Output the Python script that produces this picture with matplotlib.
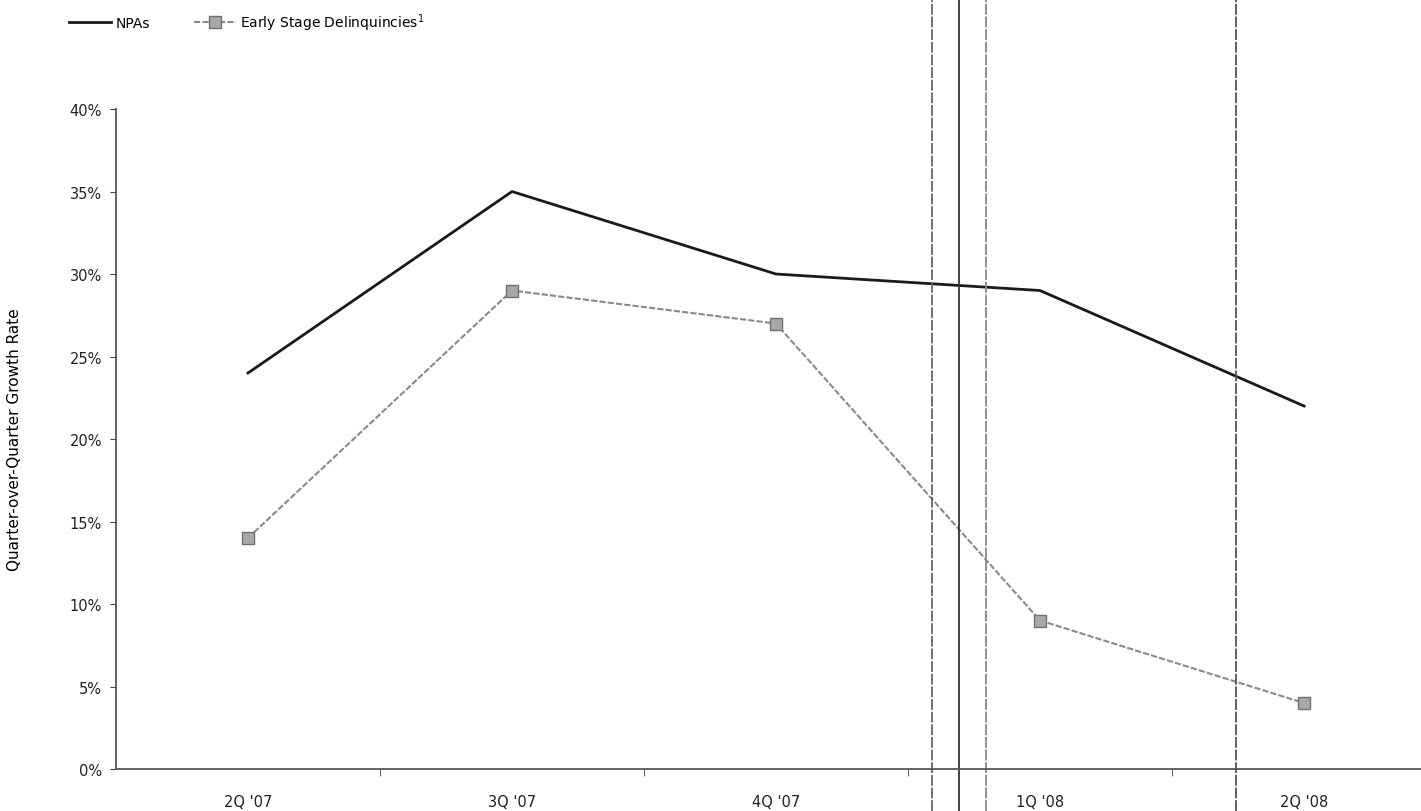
import matplotlib.pyplot as plt
from matplotlib.transforms import blended_transform_factory
from matplotlib.ticker import FixedLocator, PercentFormatter

quarters = ["2Q '07", "3Q '07", "4Q '07", "1Q '08", "2Q '08"]
npas = [24, 35, 30, 29, 22]
early = [14, 29, 27, 9, 4]
# scan artefacts: vertical page lines (in category units)
scan_lines = [2.59, 2.693, 2.795, 3.742]
scan_colors = ['#666', '#333', '#888', '#555']

fig = plt.figure(figsize=(14.21, 8.12), dpi=100)
ax = fig.add_axes([0.0816, 0.0517, 0.929, 0.8128])

x = list(range(len(quarters)))
ax.plot(x, npas, color='#1a1a1a', lw=2.0, label='NPAs')
ax.plot(x, early, color='#8a8a8a', lw=1.5, ls=(0, (3, 1)),
        marker='s', ms=9, mfc='#a8a8a8', mec='#707070', mew=1,
        label='Early Stage Delinquincies$^1$')

ax.set_xlim(-0.5, 4.5)
ax.set_ylim(0, 40)
ax.set_xticks(x)
ax.set_xticklabels(quarters, fontsize=10.5, color='#222')
ax.xaxis.set_minor_locator(FixedLocator([0.5, 1.5, 2.5, 3.5]))
ax.tick_params(axis='x', which='major', length=0, pad=18)
ax.tick_params(axis='x', which='minor', length=5, direction='out', color='#444')
ax.set_yticks(range(0, 41, 5))
ax.yaxis.set_major_formatter(PercentFormatter(decimals=0))
ax.tick_params(axis='y', length=4, direction='out', labelsize=10.5,
               labelcolor='#222', color='#444', pad=6)
ax.set_ylabel('Quarter-over-Quarter Growth Rate', fontsize=11, labelpad=34)

for s in ['top', 'right']:
    ax.spines[s].set_visible(False)
for s in ['left', 'bottom']:
    ax.spines[s].set_linestyle((0, (1.5, 1)))
    ax.spines[s].set_color('#555')
    ax.spines[s].set_linewidth(1.3)

trans = blended_transform_factory(ax.transData, fig.transFigure)
for xl, c in zip(scan_lines, scan_colors):
    ax.plot([xl, xl], [0, 1], transform=trans, clip_on=False,
            color=c, lw=1.3, ls='-' if c == '#333' else (0, (6, 1)))

ax.legend(loc='upper left', bbox_to_anchor=(0.04, 1.0),
          bbox_transform=fig.transFigure, ncol=2, frameon=False,
          fontsize=10, handlelength=3, columnspacing=3.2, handletextpad=0.3)

fig.savefig('out.png', dpi=100)
